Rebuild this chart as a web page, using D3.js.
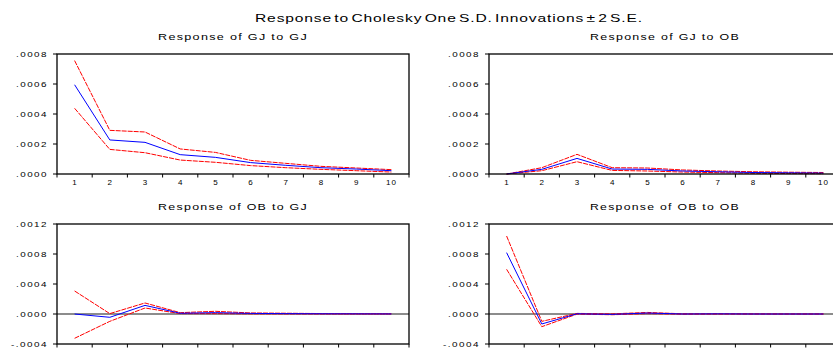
<!DOCTYPE html>
<html>
<head>
<meta charset="utf-8">
<script src="https://cdn.jsdelivr.net/npm/d3@7"></script>
<style>
  body { margin: 0; background: #fff; }
  svg { display: block; font-family: "Liberation Sans", Arial, sans-serif; }
</style>
</head>
<body>
<script>
// periods on the x axis
const periods = [1, 2, 3, 4, 5, 6, 7, 8, 9, 10]

// Response of GJ to GJ
const gjGjResp  = [0.000595, 0.000227, 0.000211, 0.000129, 0.000111, 0.000076, 0.000058, 0.000042, 0.000033, 0.000022]
const gjGjUpper = [0.000756, 0.000291, 0.000280, 0.000167, 0.000144, 0.000091, 0.000071, 0.000051, 0.000040, 0.000029]
const gjGjLower = [0.000438, 0.000164, 0.000142, 0.000093, 0.000078, 0.000056, 0.000042, 0.000031, 0.000022, 0.000013]

// Response of GJ to OB
const gjObResp  = [0, 0.000031, 0.000104, 0.000033, 0.000031, 0.000020, 0.000015, 0.000010, 0.000008, 0.000006]
const gjObUpper = [0, 0.000042, 0.000131, 0.000042, 0.000040, 0.000027, 0.000020, 0.000015, 0.000012, 0.000010]
const gjObLower = [0, 0.000022, 0.000082, 0.000024, 0.000020, 0.000013, 0.000009, 0.000005, 0.000003, 0.000002]

// Response of OB to GJ
const obGjResp  = [0, -0.000044, 0.000115, 0.000010, 0.000018, 0.000008, 0.000005, 0.000003, 0.000002, 0.000001]
const obGjUpper = [0.000307, 0.000005, 0.000147, 0.000018, 0.000036, 0.000014, 0.000010, 0.000006, 0.000004, 0.000003]
const obGjLower = [-0.000324, -0.000098, 0.000080, 0.000005, 0.000005, 0.000002, 0.000001, 0, 0, 0]

// Response of OB to OB
const obObResp  = [0.000818, -0.000133, 0.000003, -0.000005, 0.000013, 0, 0.000002, 0, 0, 0]
const obObUpper = [0.001040, -0.000098, 0.000008, 0.000002, 0.000021, 0.000003, 0.000004, 0.000002, 0.000001, 0.000001]
const obObLower = [0.000596, -0.000169, -0.000002, -0.000010, 0.000005, -0.000003, -0.000001, -0.000001, -0.000001, -0.000001]

// y tick values
const topTicks = [0, 0.0002, 0.0004, 0.0006, 0.0008]
const bottomTicks = [-0.0004, 0, 0.0004, 0.0008, 0.0012]

const titleText = "Response to Cholesky One S.D. Innovations \u00b1 2 S.E."

let W = 833, H = 350
let svg = d3.select("body").append("svg")
    .attr("width", W)
    .attr("height", H)

svg.append("text")
    .attr("x", 449)
    .attr("y", 22)
    .attr("text-anchor", "middle")
    .attr("font-size", "11px")
    .attr("letter-spacing", "0.6px")
    .attr("word-spacing", "-2px")
    .attr("textLength", 388)
    .attr("lengthAdjust", "spacingAndGlyphs")
    .text(titleText)

let panels = [
    {title: "Response of GJ to GJ", x: 57, y: 54, resp: gjGjResp, up: gjGjUpper, lo: gjGjLower, ticks: topTicks, zero: false, xlabels: true},
    {title: "Response of GJ to OB", x: 489, y: 54, resp: gjObResp, up: gjObUpper, lo: gjObLower, ticks: topTicks, zero: false, xlabels: true},
    {title: "Response of OB to GJ", x: 57, y: 224, resp: obGjResp, up: obGjUpper, lo: obGjLower, ticks: bottomTicks, zero: true, xlabels: false},
    {title: "Response of OB to OB", x: 489, y: 224, resp: obObResp, up: obObUpper, lo: obObLower, ticks: bottomTicks, zero: true, xlabels: false}
]

let pw = 352, ph = 120
let fmt = v => {
    let s = d3.format(".4f")(Math.abs(v)).replace(/^0/, "")
    return (v < 0 ? "-" : "") + s
}

panels.forEach(p => {
    let g = svg.append("g").attr("transform", `translate(${p.x},${p.y})`)

    let x = d3.scaleBand().domain(periods).range([0, pw])
    let y = d3.scaleLinear().domain(d3.extent(p.ticks)).range([ph, 0])
    let cx = d => x(d) + x.bandwidth() / 2

    // subtitle
    g.append("text")
        .attr("x", pw / 2)
        .attr("y", -14)
        .attr("text-anchor", "middle")
        .attr("font-size", "9.5px")
        .attr("letter-spacing", "1px")
        .attr("textLength", 150)
        .attr("lengthAdjust", "spacingAndGlyphs")
        .text(p.title)

    // y ticks + labels
    p.ticks.forEach(t => {
        g.append("line")
            .attr("x1", -4).attr("x2", 0)
            .attr("y1", y(t)).attr("y2", y(t))
            .attr("stroke", "#000").attr("stroke-width", 1)
        let lab = fmt(t)
        g.append("text")
            .attr("x", -9)
            .attr("y", y(t) + 2.5)
            .attr("text-anchor", "end")
            .attr("font-size", "8px")
            .attr("letter-spacing", "1.2px")
            .attr("textLength", lab.length === 5 ? 32 : 37)
            .attr("lengthAdjust", "spacingAndGlyphs")
            .text(lab)
    })

    // x ticks at band edges
    let edges = periods.map(d => x(d)).concat([pw])
    edges.forEach(e => {
        g.append("line")
            .attr("x1", e).attr("x2", e)
            .attr("y1", ph).attr("y2", ph + 3.5)
            .attr("stroke", "#000").attr("stroke-width", 1)
    })
    if (p.xlabels) {
        g.selectAll(".xl")
            .data(periods)
            .enter()
            .append("text")
            .attr("class", "xl")
            .attr("x", d => cx(d))
            .attr("y", ph + 11)
            .attr("text-anchor", "middle")
            .attr("font-size", "8px")
            .attr("letter-spacing", d => d > 9 ? "1px" : "0px")
            .text(d => d)
    }

    // zero line
    if (p.zero) {
        g.append("line")
            .attr("x1", 0).attr("x2", pw)
            .attr("y1", y(0)).attr("y2", y(0))
            .attr("stroke", "#666").attr("stroke-width", 1.3)
    }

    let line = d3.line().x((d, i) => cx(periods[i])).y(d => y(d))

    g.append("path").datum(p.up)
        .attr("d", line)
        .attr("fill", "none").attr("stroke", "#ff0000").attr("stroke-width", 1)
        .attr("stroke-dasharray", "5,1")
    g.append("path").datum(p.lo)
        .attr("d", line)
        .attr("fill", "none").attr("stroke", "#ff0000").attr("stroke-width", 1)
        .attr("stroke-dasharray", "5,1")
    g.append("path").datum(p.resp)
        .attr("d", line)
        .attr("fill", "none").attr("stroke", "#0000ff").attr("stroke-width", 1)

    // frame
    g.append("rect")
        .attr("x", 0).attr("y", 0)
        .attr("width", pw).attr("height", ph)
        .attr("fill", "none")
        .attr("stroke", "#000")
        .attr("stroke-width", 1.3)
})
</script>
</body>
</html>
